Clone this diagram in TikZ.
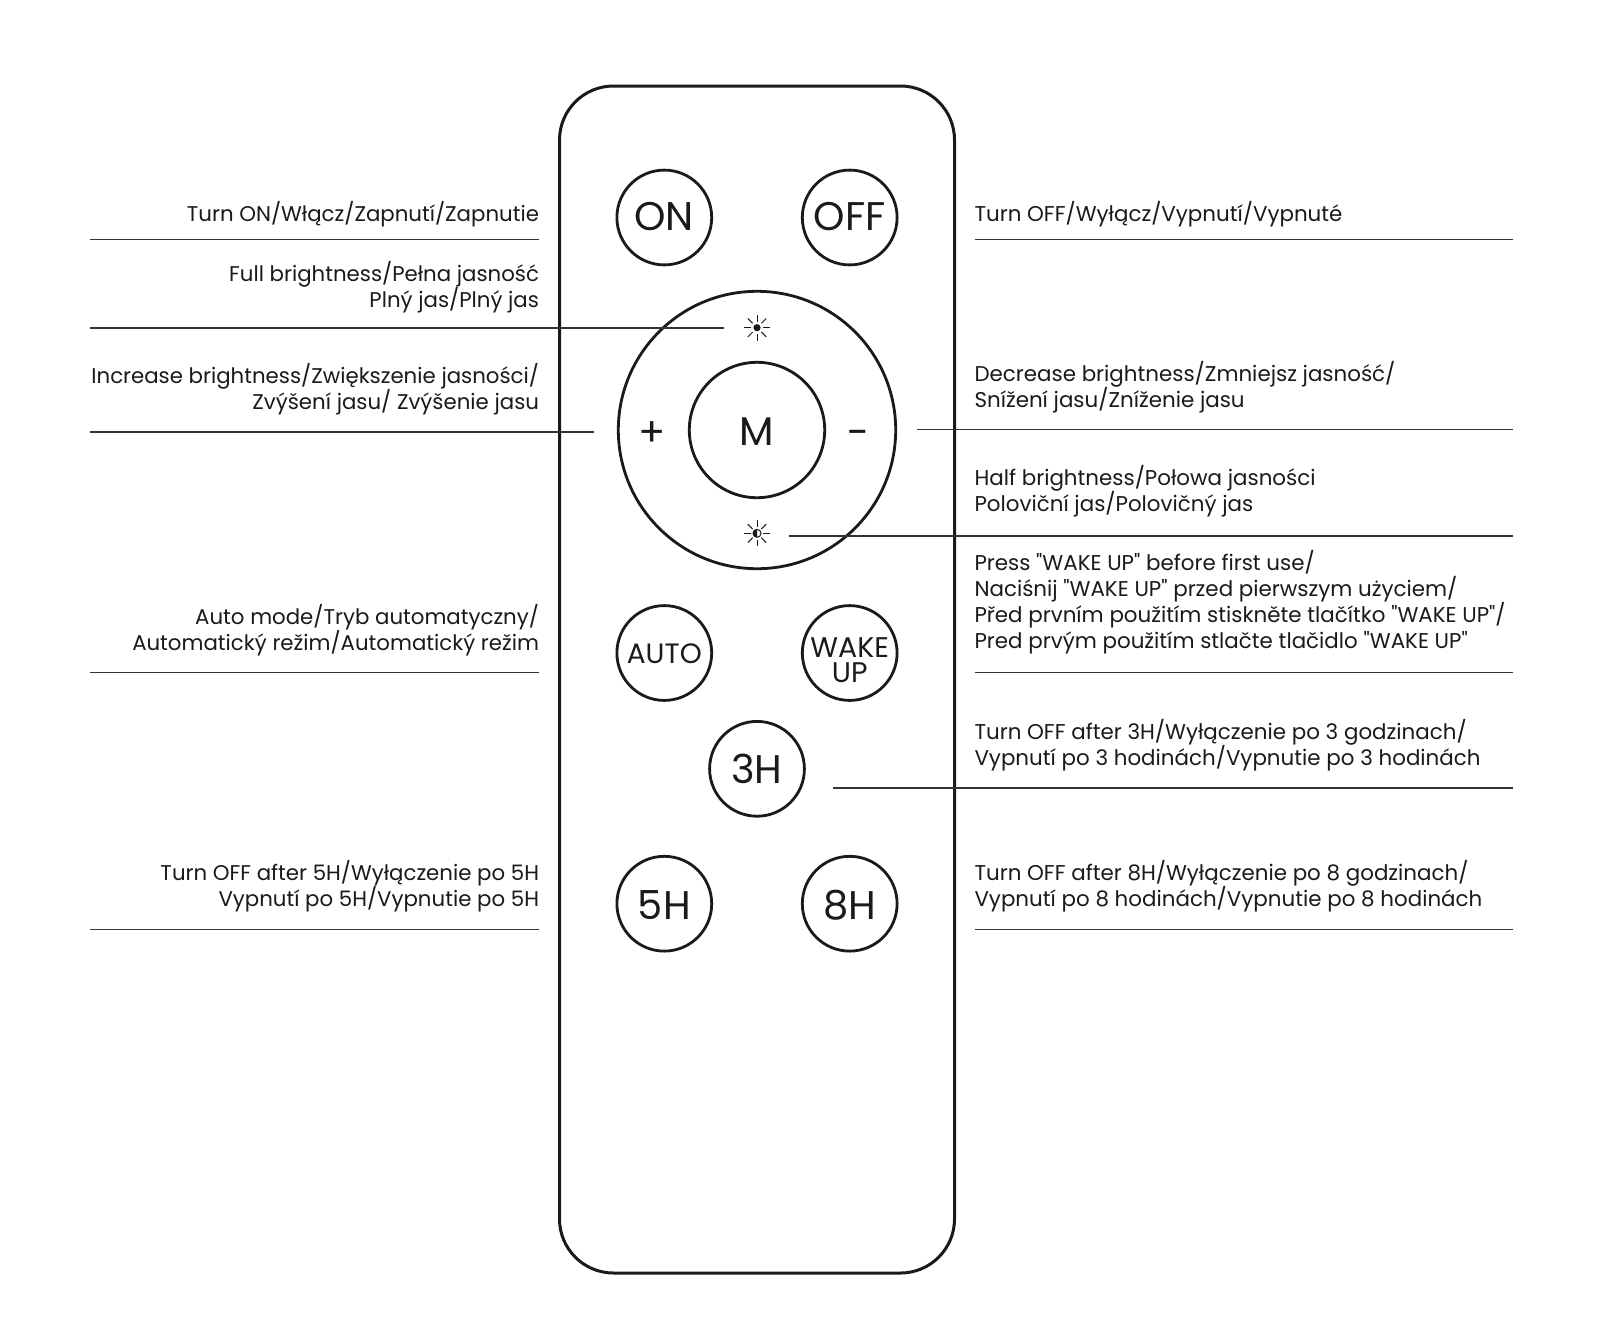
\documentclass[tikz,border=0pt]{standalone}
\usepackage{fontspec}
\setmainfont{Poppins}[Ligatures=TeXOff]
\setlength{\lineskiplimit}{-100pt}
\definecolor{ink}{HTML}{1A1A1A}
\definecolor{rule}{HTML}{333333}
\newcommand{\nudge}[2]{\raisebox{#1}[\height][0pt]{#2}}
\tikzset{
  x=0.5pt,y=-0.5pt,
  every node/.style={text=ink,inner sep=0pt,outer sep=0pt},
  body/.style={draw=ink,line width=1.5pt,rounded corners=27pt,minimum width=197.5pt,minimum height=593.5pt},
  btn/.style={draw=ink,circle,line width=1.4pt,minimum size=47.4pt,font=\fontsize{20}{20}\selectfont},
  btnsmall/.style={btn,font=\fontsize{14}{14}\selectfont},
  wakelabel/.style={align=center,font=\fontsize{14.2}{12.5}\selectfont},
  ring/.style={draw=ink,circle,line width=1.4pt},
  sign/.style={font=\fontsize{20}{20}\selectfont},
  leader/.style={draw=rule,line width=0.85pt},
  lefttext/.style={anchor=base east,align=right,font=\fontsize{10.65}{13}\selectfont},
  righttext/.style={anchor=base west,align=left,font=\fontsize{10.7}{13}\selectfont},
  rays/.style={draw=ink,line width=0.5pt},
}
\newcommand{\sunrays}[1]{%
  \foreach \a in {0,45,...,315}{
    \draw[rays] (#1)++(\a:6.2) -- ++(\a:6.8);
  }}
\begin{document}
\begin{tikzpicture}
\useasboundingbox (0,0) rectangle (1600,1318);
\fill[white] (0,0) rectangle (1600,1318);
% remote
\node[body] (remote) at (757,679.5) {};
\node[btn] (on) at (664.3,217.5) {\nudge{0.5pt}{ON}};
\node[btn] (off) at (849.7,217.5) {\nudge{0.5pt}{OFF}};
\node[ring,minimum size=138.7pt] (outer) at (757,430) {};
\node[ring,minimum size=67.7pt,font=\fontsize{20}{20}\selectfont] (mode) at (757,430) {\nudge{-1pt}{M}};
\node[sign] (plus) at (652,434) {+};
\node[sign] (minus) at (859,438) {-};
\node[btnsmall] (auto) at (664.3,653) {\nudge{-0.3pt}{AUTO}};
\node[btn] (wake) at (849.7,653) {};
\node[wakelabel] (wakett) at (849.7,660) {WAKE\\UP};
\node[btn] (h3) at (757,768.8) {3H};
\node[btn] (h5) at (664.3,903.7) {\nudge{-0.5pt}{5H}};
\node[btn] (h8) at (849.7,903.7) {\nudge{-0.5pt}{8H}};
% sun icons
\coordinate (sunfull) at (757,327.7);
\coordinate (sunhalf) at (757,533.3);
\sunrays{sunfull}
\sunrays{sunhalf}
\fill[ink] (sunfull) circle[radius=3.6];
\draw[rays] (sunhalf) circle[radius=4];
\fill[ink] (757,529.3) arc[start angle=-90,delta angle=-180,radius=4] -- cycle;
% leader ends
\coordinate (a1) at (90,239.6);   \coordinate (b1) at (539,239.6);
\coordinate (a2) at (90,327.7);   \coordinate (b2) at (724,327.7);
\coordinate (a3) at (90,432);     \coordinate (b3) at (594,432);
\coordinate (a4) at (90,672.5);   \coordinate (b4) at (539,672.5);
\coordinate (a5) at (90,929.6);   \coordinate (b5) at (539,929.6);
\coordinate (c1) at (974.5,239.6);\coordinate (d1) at (1512.6,239.6);
\coordinate (c2) at (917,429.6);  \coordinate (d2) at (1512.6,429.6);
\coordinate (c3) at (788.7,535.7);\coordinate (d3) at (1512.6,535.7);
\coordinate (c4) at (974.5,672.5);\coordinate (d4) at (1512.6,672.5);
\coordinate (c5) at (833,788);    \coordinate (d5) at (1512.6,788);
\coordinate (c6) at (974.5,929.6);\coordinate (d6) at (1512.6,929.6);
\foreach \p/\q in {a1/b1,a2/b2,a3/b3,a4/b4,a5/b5,c1/d1,c2/d2,c3/d3,c4/d4,c5/d5,c6/d6}
  \draw[leader] (\p) -- (\q);
% left labels
\node[lefttext] (t1) at (539,221) {Turn ON/Włącz/Zapnutí/Zapnutie};
\node[lefttext] (t2) at (539,307.5) {Full brightness/Pełna jasność\\Plný jas/Plný jas};
\node[lefttext] (t3) at (539,409.7) {Increase brightness/Zwiększenie jasności/\\Zvýšení jasu/ Zvýšenie jasu};
\node[lefttext] (t4) at (539,650.5) {Auto mode/Tryb automatyczny/\\Automatický režim/Automatický režim};
\node[lefttext] (t5) at (539,906.6) {Turn OFF after 5H/Wyłączenie po 5H\\Vypnutí po 5H/Vypnutie po 5H};
% right labels
\node[righttext] (r1) at (974.5,221) {Turn OFF/Wyłącz/Vypnutí/Vypnuté};
\node[righttext] (r2) at (974.5,407.7) {Decrease brightness/Zmniejsz jasność/\\Snížení jasu/Zníženie jasu};
\node[righttext] (r3) at (974.5,511.5) {Half brightness/Połowa jasności\\Poloviční jas/Polovičný jas};
\node[righttext] (r4) at (974.5,648.3) {Press "WAKE UP" before first use/\\Naciśnij "WAKE UP" przed pierwszym użyciem/\\Před prvním použitím stiskněte tlačítko "WAKE UP"/\\Pred prvým použitím stlačte tlačidlo "WAKE UP"};
\node[righttext] (r5) at (974.5,765.8) {Turn OFF after 3H/Wyłączenie po 3 godzinach/\\Vypnutí po 3 hodinách/Vypnutie po 3 hodinách};
\node[righttext] (r6) at (974.5,906.6) {Turn OFF after 8H/Wyłączenie po 8 godzinach/\\Vypnutí po 8 hodinách/Vypnutie po 8 hodinách};
\end{tikzpicture}
\end{document}
